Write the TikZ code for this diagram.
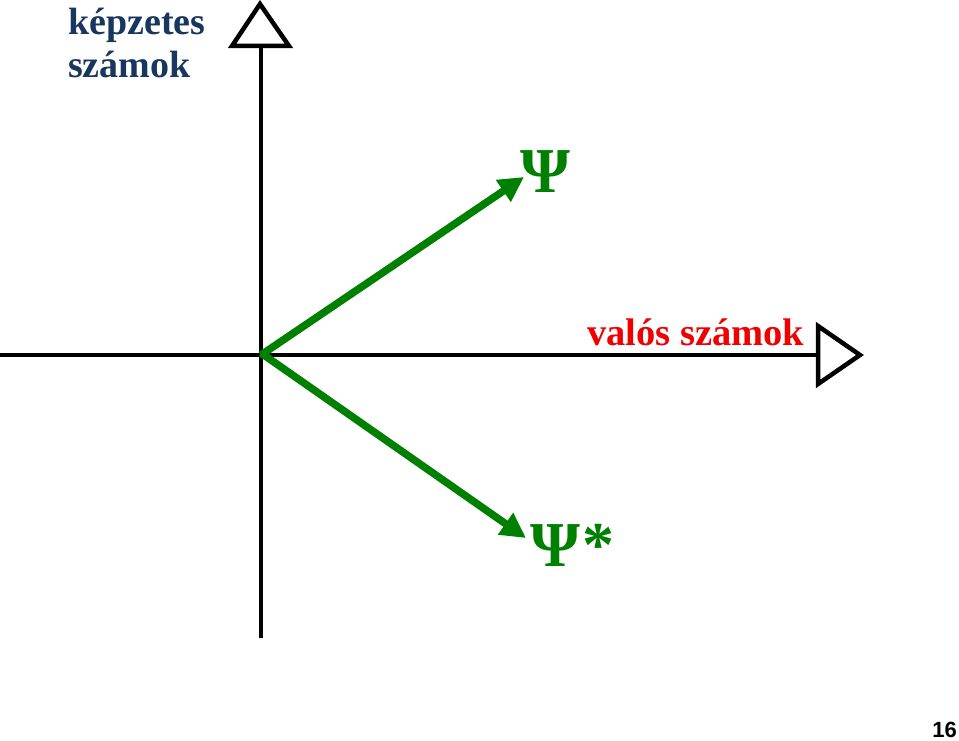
\documentclass[tikz,border=0pt]{standalone}
\usepackage{fontspec}
\setmainfont{Liberation Serif}
\newfontfamily\numfont{Liberation Sans}
\usetikzlibrary{arrows.meta}
\definecolor{imblue}{HTML}{17375E}
\definecolor{vecgreen}{HTML}{008000}
\definecolor{realred}{HTML}{F00000}
\tikzset{
  axis/.style={line width=4.5pt, black, line join=miter},
  vec/.style={line width=7.5pt, vecgreen, -{Triangle[length=25pt,width=25pt]}},
  lbl/.style={inner sep=0pt, anchor=base west, font=\bfseries}
}
\begin{document}
\begin{tikzpicture}[x=1pt,y=-1pt]
\useasboundingbox (0,0) rectangle (959,741);
% coordinates
\coordinate (O) at (261,355);
\coordinate (vtop) at (261,46);
\coordinate (vbot) at (261,638);
\coordinate (hleft) at (0,355);
\coordinate (hright) at (818,355);
\coordinate (psiend) at (524,177);
\coordinate (psistarend) at (526,538);
% axes
\draw[axis] (vbot) -- (vtop);
\draw[axis] (232,46) -- (260,4) -- (289,46) -- cycle;
\draw[axis] (hleft) -- (hright);
\draw[axis] (818,326) -- (860,355) -- (818,384) -- cycle;
% vectors
\draw[vec] (O) -- (psiend);
\draw[vec] ([yshift=2pt]O) -- (psistarend);
% labels
\node[lbl, text=imblue, font=\bfseries\fontsize{38}{40}\selectfont] (im) at (68,35) {képzetes};
\node[lbl, text=imblue, font=\bfseries\fontsize{38}{40}\selectfont] (im2) at (68,78) {számok};
\node[lbl, text=realred, font=\bfseries\fontsize{38.5}{42}\selectfont] (re) at (587,345) {valós számok};
\node[lbl, text=vecgreen, font=\bfseries\fontsize{64}{70}\selectfont] (psi) at (520,193) {Ψ};
\node[lbl, text=vecgreen, font=\bfseries\fontsize{64}{70}\selectfont] (psistar) at (530,566) {Ψ\kern2pt*};
\node[lbl, anchor=base east, font=\numfont\bfseries\fontsize{22}{24}\selectfont] (pg) at (957,737) {16};
\end{tikzpicture}
\end{document}
